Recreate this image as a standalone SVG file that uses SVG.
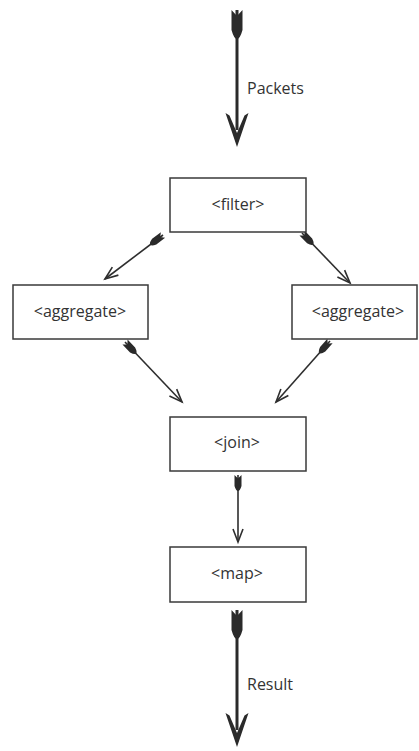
<svg xmlns="http://www.w3.org/2000/svg" width="419" height="751" viewBox="0 0 419 751">
  <style>
    .box { fill: #ffffff; stroke: #3a3a3a; stroke-width: 1.5; }
    .label { font-family: "Open Sans", "Liberation Sans", sans-serif; font-size: 16px; fill: #333333; }
    .thick { stroke: #2a2a2a; stroke-width: 3; fill: none; }
    .thin { stroke: #2e2e2e; stroke-width: 1.6; fill: none; }
  </style>
  <defs>
    <!-- large feathered tail for the input/output streams -->
    <marker id="fletchBig" markerUnits="userSpaceOnUse" viewBox="0 0 30 12" markerWidth="30" markerHeight="12" refX="0" refY="6" orient="auto" overflow="visible">
      <path d="M0,0.5 L6,6 L0,11.5 L20,11.5 Q29,9 29,6 Q29,3 20,0.5 Z" fill="#2a2a2a"/>
    </marker>
    <!-- large barbed head -->
    <marker id="headBig" markerUnits="userSpaceOnUse" viewBox="0 0 36 24" markerWidth="36" markerHeight="24" refX="18" refY="12" orient="auto" overflow="visible">
      <path d="M35,12 L1,0.5 L3.5,4.5 L21,12 L3.5,19.5 L1,23.5 Z" fill="#2a2a2a"/>
    </marker>
    <!-- small feathered tail -->
    <marker id="fletchSmall" markerUnits="userSpaceOnUse" viewBox="0 0 16 8" markerWidth="16" markerHeight="8" refX="0" refY="4" orient="auto" overflow="visible">
      <path d="M0,0.5 L3.5,4 L0,7.5 L11,7.5 Q16,6 16,4 Q16,2 11,0.5 Z" fill="#2a2a2a"/>
    </marker>
    <!-- small open head -->
    <marker id="headSmall" markerUnits="userSpaceOnUse" viewBox="0 0 14 10" markerWidth="14" markerHeight="10" refX="13" refY="5" orient="auto" overflow="visible">
      <path d="M0,0 L13,5 L0,10" fill="none" stroke="#2e2e2e" stroke-width="1.6" stroke-linejoin="miter"/>
    </marker>
  </defs>

  <g id="connectors">
    <line class="thick" x1="237" y1="10" x2="237" y2="130" marker-start="url(#fletchBig)" marker-end="url(#headBig)"/>
    <line class="thin" x1="163" y1="235" x2="105" y2="279" marker-start="url(#fletchSmall)" marker-end="url(#headSmall)"/>
    <line class="thin" x1="302" y1="233" x2="350" y2="283" marker-start="url(#fletchSmall)" marker-end="url(#headSmall)"/>
    <line class="thin" x1="125" y1="342" x2="182" y2="402" marker-start="url(#fletchSmall)" marker-end="url(#headSmall)"/>
    <line class="thin" x1="330" y1="341" x2="276" y2="402" marker-start="url(#fletchSmall)" marker-end="url(#headSmall)"/>
    <line class="thin" x1="238" y1="475" x2="238" y2="542" stroke-width="1.2" marker-start="url(#fletchSmall)" marker-end="url(#headSmall)"/>
    <line class="thick" x1="237" y1="610" x2="237" y2="730" marker-start="url(#fletchBig)" marker-end="url(#headBig)"/>
    <text class="label" x="247" y="94">Packets</text>
    <text class="label" x="247" y="690">Result</text>
  </g>

  <g id="filter">
    <rect class="box" x="170" y="178" width="136" height="54"/>
    <text class="label" x="238" y="210" text-anchor="middle">&lt;filter&gt;</text>
  </g>
  <g id="aggregate-left">
    <rect class="box" x="13" y="285" width="135" height="54"/>
    <text class="label" x="80" y="317" text-anchor="middle">&lt;aggregate&gt;</text>
  </g>
  <g id="aggregate-right">
    <rect class="box" x="292" y="285" width="125" height="54"/>
    <text class="label" x="358" y="317" text-anchor="middle">&lt;aggregate&gt;</text>
  </g>
  <g id="join">
    <rect class="box" x="170" y="417" width="136" height="54"/>
    <text class="label" x="237" y="448" text-anchor="middle">&lt;join&gt;</text>
  </g>
  <g id="map">
    <rect class="box" x="170" y="547" width="136" height="55"/>
    <text class="label" x="237" y="579" text-anchor="middle">&lt;map&gt;</text>
  </g>
</svg>
